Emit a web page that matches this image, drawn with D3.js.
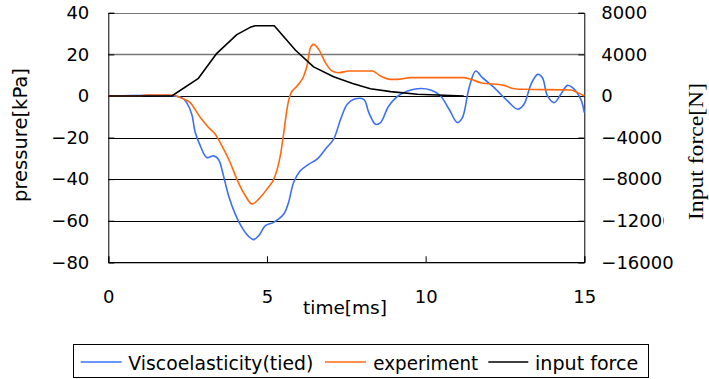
<!DOCTYPE html>
<html>
<head>
<meta charset="utf-8">
<script src="https://cdn.jsdelivr.net/npm/d3@7"></script>
<style>
  body { margin: 0; background: #fff; }
  svg { display: block; font-family: "DejaVu Sans", sans-serif; }
</style>
</head>
<body>
<div id="chart"></div>
<script>
// frame size
const FRAME_WIDTH = 709;
const FRAME_HEIGHT = 379;
const PLOT = {left: 108.3, right: 584.3, top: 12.8, bottom: 262.3};

// tick values
const X_TICKS = [0, 5, 10, 15];
const LEFT_TICKS = [40, 20, 0, -20, -40, -60, -80];
const RIGHT_TICKS = [8000, 4000, 0, -4000, -8000, -12000, -16000];

// Viscoelasticity(tied) : time [ms] / pressure [kPa]
const viscoTime = [0, 2.05, 2.32, 2.47, 2.63, 2.74, 2.9, 3.1, 3.32, 3.47, 3.63, 3.79, 4.0, 4.21, 4.42, 4.58, 4.74, 4.95, 5.21, 5.53,
  5.68, 5.84, 6.05, 6.32, 6.58, 6.84, 7.1, 7.32, 7.53, 7.74, 8.05, 8.21, 8.42, 8.58, 8.84, 9.21, 9.74, 10.16, 10.47, 10.74,
  11.0, 11.16, 11.37, 11.58, 11.79, 12.16, 12.58, 12.9, 13.1, 13.32, 13.53, 13.68, 13.84, 14.05, 14.26, 14.47, 14.63, 14.89, 15.0];
const viscoPressure = [0, 0, -0.8, -3.2, -8.8, -17.6, -24, -29.6, -28.8, -30.4, -38.4, -48, -56.8, -63.2, -67.5, -69.1, -67.2, -62.4, -60.8, -56.8,
  -51.2, -41.6, -36, -32.8, -30.4, -25.6, -20.8, -11.2, -4, -1.6, -1.6, -8, -13.6, -12.8, -4.8, 0.8, 3.5, 2.9, 0, -6.4,
  -12.8, -10.4, 4, 12, 8.8, 4, -2.4, -6.4, -4, 5.6, 10.4, 8.8, 0, -3.2, 0.8, 5.1, 4, -1.6, -8];

// experiment : time [ms] / pressure [kPa]
const expTime = [0, 1.0, 1.2, 2.05, 2.26, 2.58, 2.9, 3.16, 3.37, 3.58, 3.84, 4.05, 4.32, 4.53, 4.74, 5.0, 5.26, 5.42, 5.53, 5.63,
  5.74, 5.95, 6.16, 6.26, 6.37, 6.47, 6.63, 6.84, 7.05, 7.26, 7.58, 8.32, 8.58, 8.9, 9.1, 9.53, 11.2, 11.42, 11.74, 12.47,
  12.79, 13.1, 14.58, 14.79, 15.0];
const expPressure = [0, 0, 0.5, 0.5, -0.8, -3.2, -10.4, -15.2, -18.4, -24, -32, -40, -48, -52, -49.6, -44.8, -38.4, -28.8, -17.6, -6.4,
  0.8, 4.8, 9.6, 14.4, 23.2, 24.8, 22.4, 16, 12, 11.2, 12, 12, 9.6, 8, 8, 8.8, 8.8, 8, 6.4, 5.1,
  3.5, 3.2, 2.9, 1.6, 0];

// input force : time [ms] / force [N]
const forceTime = [0, 2.0, 2.84, 3.42, 4.05, 4.47, 4.63, 5.23, 5.9, 6.47, 7.1, 7.7, 8.26, 8.9, 9.74, 10.37, 11.2];
const forceValue = [0, 0, 1700, 4100, 5900, 6600, 6750, 6750, 4400, 2800, 1850, 1200, 700, 420, 160, 100, 0];

const SERIES = [
  {name: "Viscoelasticity(tied)", color: "#3b6ff5", time: viscoTime, value: viscoPressure, axis: "left", curve: d3.curveCatmullRom},
  {name: "experiment", color: "#ff6a10", time: expTime, value: expPressure, axis: "left", curve: d3.curveMonotoneX},
  {name: "input force", color: "#000000", time: forceTime, value: forceValue, axis: "right", curve: d3.curveLinear}
];

const svg = d3.select("#chart")
  .append("svg")
    .attr("width", FRAME_WIDTH)
    .attr("height", FRAME_HEIGHT);

// scales
const x = d3.scaleLinear().domain([0, 15]).range([PLOT.left, PLOT.right]);
const yLeft = d3.scaleLinear().domain([-80, 40]).range([PLOT.bottom, PLOT.top]);
const yRight = d3.scaleLinear().domain([-16000, 8000]).range([PLOT.bottom, PLOT.top]);

// gridlines (top two are grey in the original)
svg.append("g")
  .selectAll("line")
  .data(LEFT_TICKS)
  .enter()
  .append("line")
    .attr("x1", PLOT.left)
    .attr("x2", PLOT.right)
    .attr("y1", (d) => Math.round(yLeft(d)) + 0.5)
    .attr("y2", (d) => Math.round(yLeft(d)) + 0.5)
    .attr("stroke", (d) => d > 0 ? "#777" : "#000")
    .attr("stroke-width", (d) => d == 20 ? 1.6 : 1);

// left axis
const leftAxis = svg.append("g")
  .attr("transform", "translate(" + PLOT.left + ",0)")
  .call(d3.axisLeft(yLeft).tickValues(LEFT_TICKS).tickSize(-6).tickPadding(19));

// right axis (no thousands separator)
const rightAxis = svg.append("g")
  .attr("transform", "translate(" + PLOT.right + ",0)")
  .call(d3.axisRight(yRight).tickValues(RIGHT_TICKS).tickFormat(d3.format("d")).tickSize(-6).tickPadding(17));

// bottom axis
const bottomAxis = svg.append("g")
  .attr("transform", "translate(0," + PLOT.bottom + ")")
  .call(d3.axisBottom(x).tickValues(X_TICKS).tickSize(-6).tickPadding(28));

[leftAxis, rightAxis, bottomAxis].forEach((g) => {
  g.selectAll(".domain").attr("stroke", "#000");
  g.selectAll(".tick line").attr("stroke", "#000");
  g.selectAll("text")
    .attr("font-family", "DejaVu Sans")
    .attr("font-size", 18)
    .attr("fill", "#000");
});

// the lines
const series = SERIES.map((s) => ({
  ...s,
  points: s.time.map((t, i) => ({t: t, v: s.value[i]}))
}));

series.forEach((s) => {
  const yScale = s.axis == "left" ? yLeft : yRight;
  svg.append("path")
    .datum(s.points)
    .attr("fill", "none")
    .attr("stroke", s.color)
    .attr("stroke-width", 1.6)
    .attr("stroke-linejoin", "round")
    .attr("d", d3.line()
      .curve(s.curve)
      .x((d) => x(d.t))
      .y((d) => yScale(d.v)));
});

// axis titles
svg.append("text")
  .attr("transform", "translate(27,135) rotate(-90)")
  .attr("text-anchor", "middle")
  .attr("font-size", 19)
  .attr("textLength", 134)
  .attr("lengthAdjust", "spacingAndGlyphs")
  .text("pressure[kPa]");

svg.append("text")
  .attr("x", 345)
  .attr("y", 314)
  .attr("text-anchor", "middle")
  .attr("font-size", 18)
  .attr("textLength", 84)
  .attr("lengthAdjust", "spacingAndGlyphs")
  .text("time[ms]");

// right title sits on a white box that hides part of the -12000 label
svg.append("rect")
  .attr("x", 664)
  .attr("y", 70)
  .attr("width", 45)
  .attr("height", 157)
  .attr("fill", "#fff");

svg.append("text")
  .attr("transform", "translate(702.5,151.5) rotate(-90)")
  .attr("text-anchor", "middle")
  .attr("font-family", "Liberation Serif")
  .attr("font-size", 22)
  .attr("textLength", 137)
  .attr("lengthAdjust", "spacingAndGlyphs")
  .text("Input force[N]");

// legend
const LEGEND_ITEMS = [
  {x1: 80.7, x2: 121.7, tx: 128.3, len: 185},
  {x1: 325, x2: 366, tx: 373.3, len: 105},
  {x1: 488.3, x2: 528.3, tx: 535, len: 103.3}
];

const legend = svg.append("g");
legend.append("rect")
  .attr("x", 73.5)
  .attr("y", 344.5)
  .attr("width", 575)
  .attr("height", 33)
  .attr("fill", "#fff")
  .attr("stroke", "#000");

series.forEach((s, i) => {
  const it = LEGEND_ITEMS[i];
  legend.append("line")
    .attr("x1", it.x1)
    .attr("x2", it.x2)
    .attr("y1", 362)
    .attr("y2", 362)
    .attr("stroke", s.color)
    .attr("stroke-width", 1.6);
  legend.append("text")
    .attr("x", it.tx)
    .attr("y", 369.5)
    .attr("font-size", 19)
    .attr("textLength", it.len)
    .attr("lengthAdjust", "spacingAndGlyphs")
    .text(s.name);
});
</script>
</body>
</html>
